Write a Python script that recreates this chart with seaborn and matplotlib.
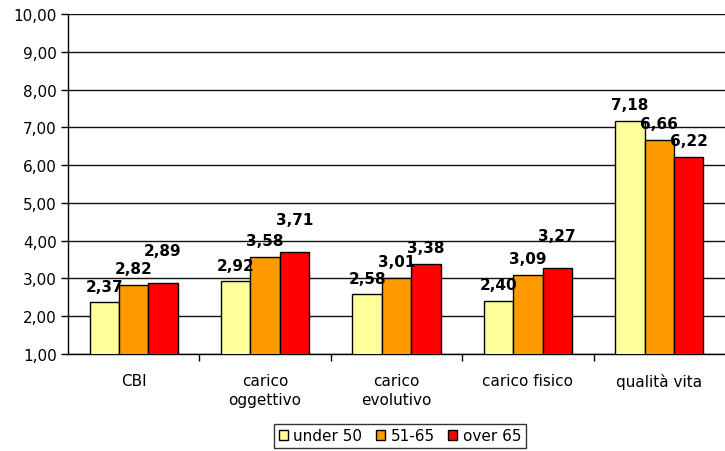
import matplotlib
matplotlib.use("Agg")
import matplotlib.pyplot as plt
from matplotlib.ticker import MultipleLocator, FixedLocator, FuncFormatter
import seaborn as sns
import pandas as pd

categories = ["CBI", "carico\noggettivo", "carico\nevolutivo", "carico fisico", "qualità vita"]
groups = ["under 50", "51-65", "over 65"]
under_50 = [2.37, 2.92, 2.58, 2.40, 7.18]
age_51_65 = [2.82, 3.58, 3.01, 3.09, 6.66]
over_65 = [2.89, 3.71, 3.38, 3.27, 6.22]
colors = ["#FFFF99", "#FF9900", "#FF0000"]
# extra lift for labels that would otherwise overlap a neighbour
label_lift = [[0, 0, 1], [0, 0, 1], [0, 0, 0], [0, 0, 1], [0, 0, 0]]

series = [under_50, age_51_65, over_65]
df = pd.DataFrame(
    [(c, g, v) for g, vals in zip(groups, series) for c, v in zip(categories, vals)],
    columns=["categoria", "gruppo", "valore"],
)

sns.set_theme(style="white")
plt.rcParams["font.family"] = ["DejaVu Sans"]
plt.rcParams["text.color"] = "black"
plt.rcParams["xtick.color"] = "black"
plt.rcParams["ytick.color"] = "black"

fig = plt.figure(figsize=(7.25, 4.52), dpi=100)
ax = fig.add_axes([68 / 725, 1 - 355 / 452, (725 - 68) / 725, 340 / 452])

sns.barplot(
    data=df, x="categoria", y="valore", hue="gruppo", order=categories,
    hue_order=groups, palette=colors, width=0.67, edgecolor="black",
    linewidth=1, saturation=1, ax=ax, zorder=3,
)

ax.set_ylim(1, 10)
ax.set_xlim(-0.5, len(categories) - 0.5)
ax.yaxis.set_major_locator(MultipleLocator(1))
ax.yaxis.set_major_formatter(FuncFormatter(lambda v, _: f"{v:.2f}".replace(".", ",")))
ax.grid(axis="y", color="#111111", linewidth=1, zorder=0)
ax.set_axisbelow(True)
for side in ("top", "right"):
    ax.spines[side].set_visible(False)
for side in ("left", "bottom"):
    ax.spines[side].set_color("black")
    ax.spines[side].set_linewidth(1)

ax.tick_params(axis="y", which="major", left=True, length=5, width=1,
               color="black", labelcolor="black", labelsize=11, pad=3)
ax.tick_params(axis="x", which="major", length=0, labelsize=11, pad=14,
               labelcolor="black")
ax.xaxis.set_minor_locator(FixedLocator([i + 0.5 for i in range(len(categories) - 1)]))
ax.tick_params(axis="x", which="minor", bottom=True, length=5, width=1, color="black")
ax.set_xlabel("")
ax.set_ylabel("")
for lbl in ax.get_xticklabels():
    lbl.set_linespacing(1.3)
    lbl.set_verticalalignment("top")

# value labels above each bar
for gi, container in enumerate(ax.containers):
    for ci, bar in enumerate(container):
        val = series[gi][ci]
        x = bar.get_x() + bar.get_width() / 2
        y = val + 0.43 * (1 + label_lift[ci][gi])
        ax.text(x, y, f"{val:.2f}".replace(".", ","), ha="center", va="center",
                fontsize=11, fontweight="bold", color="black", zorder=5)

ax.legend_.remove()
handles = [plt.Rectangle((0, 0), 1, 1, facecolor=c, edgecolor="black", linewidth=1)
           for c in colors]
leg = fig.legend(handles, groups, loc="center", bbox_to_anchor=(400 / 725, 1 - 437 / 452),
                 ncol=3, frameon=True, fancybox=False, fontsize=11,
                 handlelength=0.6, handleheight=0.6, handletextpad=0.35,
                 columnspacing=0.9, borderpad=0.3, borderaxespad=0)
leg.get_frame().set_edgecolor("black")
leg.get_frame().set_linewidth(1)
for t in leg.get_texts():
    t.set_color("black")

fig.savefig("out.png", dpi=100)
